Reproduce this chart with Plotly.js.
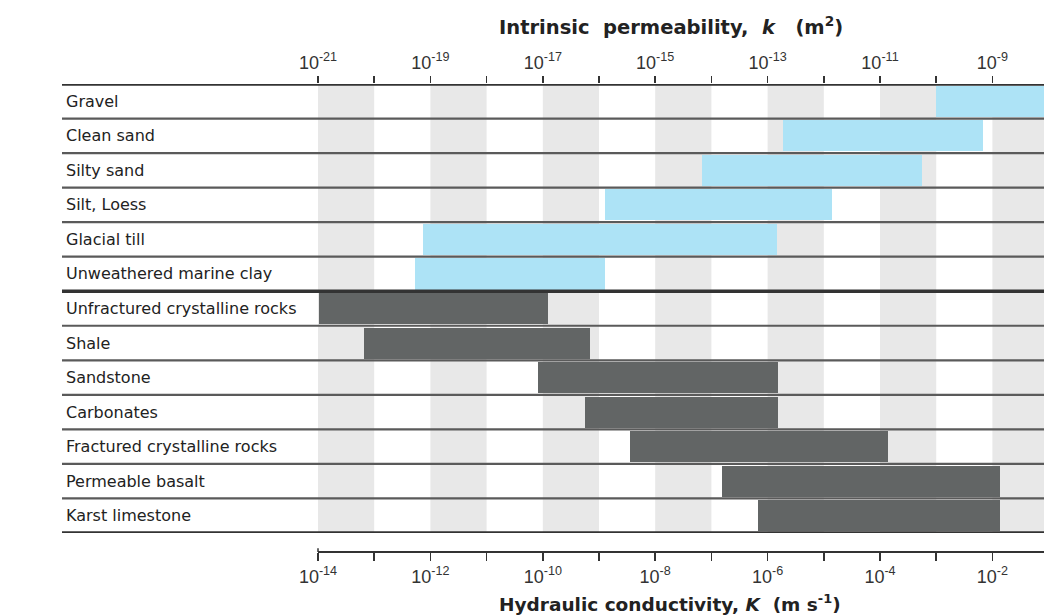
<!DOCTYPE html>
<html>
<head>
<meta charset="utf-8">
<script src="https://cdn.plot.ly/plotly-3.0.1.min.js"></script>
<style>html,body{margin:0;padding:0;background:#fff;}#chart{width:1044px;height:616px;}</style>
</head>
<body>
<div id="chart"></div>
<script>
// ---- data (exponents of intrinsic permeability k, m^2) ----
const materials = [
  "Gravel", "Clean sand", "Silty sand", "Silt, Loess", "Glacial till",
  "Unweathered marine clay", "Unfractured crystalline rocks", "Shale",
  "Sandstone", "Carbonates", "Fractured crystalline rocks",
  "Permeable basalt", "Karst limestone"
];
const materialGroup = [
  "unconsolidated", "unconsolidated", "unconsolidated", "unconsolidated",
  "unconsolidated", "unconsolidated", "rock", "rock", "rock", "rock",
  "rock", "rock", "rock"
];
const logKMin = [-10.0, -12.73, -14.17, -15.89, -19.13, -19.27, -20.98, -20.18, -17.09, -16.25, -15.45, -13.81, -13.17];
const logKMax = [-7.0, -9.17, -10.25, -11.85, -12.83, -15.89, -16.91, -16.16, -12.81, -12.81, -10.86, -8.86, -8.86];

// tick values (exponents)
const permTickExps = [-21, -19, -17, -15, -13, -11, -9];
const permTickLabels = ["10<sup>-21</sup>", "10<sup>-19</sup>", "10<sup>-17</sup>", "10<sup>-15</sup>", "10<sup>-13</sup>", "10<sup>-11</sup>", "10<sup>-9</sup>"];
const permMinorExps = [-20, -18, -16, -14, -12, -10];
const condTickExps = [-14, -12, -10, -8, -6, -4, -2];
const condTickLabels = ["10<sup>-14</sup>", "10<sup>-12</sup>", "10<sup>-10</sup>", "10<sup>-8</sup>", "10<sup>-6</sup>", "10<sup>-4</sup>", "10<sup>-2</sup>"];
const condMinorExps = [-13, -11, -9, -7, -5, -3];
const condOffset = 7; // log10 K = log10 k + 7 (water)
const shadedDecades = [-21, -19, -17, -15, -13, -11, -9];

// ---- build traces ----
const groupColors = {unconsolidated: "#ade3f6", rock: "#626565"};
const traces = ["unconsolidated", "rock"].map(g => {
  const idx = materials.map((_, i) => i).filter(i => materialGroup[i] === g);
  return {
    type: "bar", orientation: "h",
    xaxis: "x2", yaxis: "y",
    y: idx.map(i => i + 0.5),
    base: idx.map(i => logKMin[i]),
    x: idx.map(i => logKMax[i] - logKMin[i]),
    width: 0.9,
    marker: {color: groupColors[g], line: {width: 0}},
    hoverinfo: "skip"
  };
});
// empty trace so that the hydraulic-conductivity axis is drawn
traces.push({type: "scatter", mode: "markers", x: [], y: [], xaxis: "x", yaxis: "y", hoverinfo: "skip"});

const xLeft = -25.555, xRight = -8.082;
const nRows = materials.length;

const shapes = [];
shadedDecades.forEach(d => shapes.push({
  type: "rect", xref: "x2", yref: "y", x0: d, x1: d + 1, y0: 0, y1: nRows,
  fillcolor: "#e8e8e8", line: {width: 0}, layer: "below"
}));
for (let r = 0; r <= nRows; r++) {
  const thick = (r === 0 || r === nRows || r === 6);
  shapes.push({
    type: "line", xref: "paper", yref: "y", x0: 0, x1: 1, y0: r, y1: r,
    line: {color: thick ? "#333333" : "#5a5a5a", width: thick ? 3.5 : 2.2},
    layer: "above"
  });
}
// bottom axis line
shapes.push({type: "line", xref: "x2", yref: "paper", x0: -21, x1: xRight, y0: 0, y1: 0,
  line: {color: "#333", width: 2}});
shapes.push({type: "line", xref: "x2", yref: "paper", x0: -21, x1: -21, y0: 0, y1: 0.008,
  line: {color: "#333", width: 1.5}});

const annotations = materials.map((m, i) => ({
  text: m, xref: "paper", yref: "y", x: 0.002, y: i + 0.5,
  xanchor: "left", yanchor: "middle", showarrow: false,
  font: {family: "DejaVu Sans, sans-serif", size: 16, color: "#222"}
}));
annotations.push({
  text: "<b>Intrinsic&nbsp; permeability,&nbsp; <i>k</i>&nbsp;&nbsp; (m<sup>2</sup>)</b>",
  xref: "paper", yref: "paper", x: 0.443, y: 1.124, xanchor: "left", yanchor: "middle",
  showarrow: false, font: {family: "DejaVu Sans, sans-serif", size: 19.5, color: "#222"}
});
annotations.push({
  text: "<b>Hydraulic conductivity, <i>K</i>&nbsp; (m s<sup>-1</sup>)</b>",
  xref: "paper", yref: "paper", x: 0.443, y: -0.109, xanchor: "left", yanchor: "middle",
  showarrow: false, font: {family: "DejaVu Sans, sans-serif", size: 18.5, color: "#222"}
});

const tickFont = {family: "Liberation Sans, Arial, sans-serif", size: 18, color: "#333"};
const layout = {
  width: 1044, height: 616,
  margin: {l: 62, r: 0, t: 84, b: 64, pad: 0},
  paper_bgcolor: "#fff", plot_bgcolor: "#fff",
  showlegend: false, bargap: 0,
  xaxis: {
    range: [xLeft + condOffset, xRight + condOffset],
    anchor: "free", position: 0, side: "bottom",
    tickmode: "array", tickvals: condTickExps, ticktext: condTickLabels,
    ticks: "outside", ticklen: 8, tickwidth: 1.5, tickcolor: "#333",
    minor: {tickmode: "array", tickvals: condMinorExps, ticks: "outside", ticklen: 8, tickwidth: 1.5, tickcolor: "#333", showgrid: false},
    showgrid: false, zeroline: false, showline: false, tickfont: tickFont
  },
  xaxis2: {
    range: [xLeft, xRight], overlaying: "x", anchor: "y", side: "top",
    tickmode: "array", tickvals: permTickExps, ticktext: permTickLabels,
    ticks: "outside", ticklen: 7, tickwidth: 1.5, tickcolor: "#333",
    minor: {tickmode: "array", tickvals: permMinorExps, ticks: "outside", ticklen: 7, tickwidth: 1.5, tickcolor: "#333", showgrid: false},
    showgrid: false, zeroline: false, showline: false, tickfont: tickFont
  },
  yaxis: {
    range: [nRows, 0], domain: [0.0406, 1],
    showticklabels: false, showgrid: false, zeroline: false, ticks: "", showline: false
  },
  shapes: shapes, annotations: annotations
};

Plotly.newPlot("chart", traces, layout, {displayModeBar: false, staticPlot: true});
</script>
</body>
</html>
